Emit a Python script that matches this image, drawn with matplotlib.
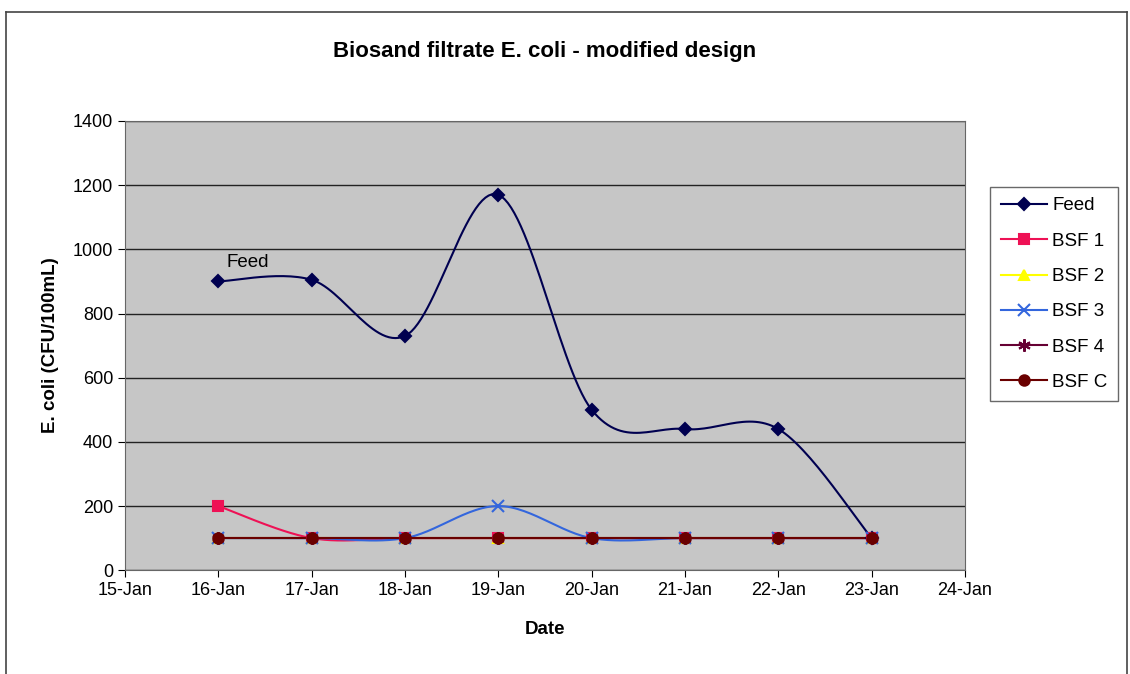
import numpy as np
import matplotlib
matplotlib.use("Agg")
import matplotlib.pyplot as plt
from matplotlib.lines import Line2D

plt.rcParams['font.family'] = ['Liberation Sans', 'DejaVu Sans']

days = [16, 17, 18, 19, 20, 21, 22, 23]
tick_days = list(range(15, 25))
tick_labels = [f"{d}-Jan" for d in tick_days]

feed = [900, 905, 730, 1170, 500, 440, 440, 100]
bsf1 = [200, 100, 100, 100, 100, 100, 100, 100]
bsf2 = [100, 100, 100, 100, 100, 100, 100, 100]
bsf3 = [100, 100, 100, 200, 100, 100, 100, 100]
bsf4 = [100, 100, 100, 100, 100, 100, 100, 100]
bsfc = [100, 100, 100, 100, 100, 100, 100, 100]


def smooth(x, y, n=30):
    # Excel-like smoothing: Bezier segments with Catmull-Rom control points
    x = np.asarray(x, float)
    y = np.asarray(y, float)
    px = np.concatenate([[x[0]], x, [x[-1]]])
    py = np.concatenate([[y[0]], y, [y[-1]]])
    t = np.linspace(0, 1, n)
    xs, ys = [], []
    for i in range(len(x) - 1):
        p0 = np.array([px[i], py[i]])
        p1 = np.array([px[i + 1], py[i + 1]])
        p2 = np.array([px[i + 2], py[i + 2]])
        p3 = np.array([px[i + 3], py[i + 3]])
        c1 = p1 + (p2 - p0) / 6
        c2 = p2 - (p3 - p1) / 6
        b = ((1 - t) ** 3)[:, None] * p1 + (3 * (1 - t) ** 2 * t)[:, None] * c1 \
            + (3 * (1 - t) * t ** 2)[:, None] * c2 + (t ** 3)[:, None] * p2
        xs.append(b[:, 0])
        ys.append(b[:, 1])
    return np.concatenate(xs), np.concatenate(ys)


series = [
    ("Feed", feed, "#000050", "D", 6.5),
    ("BSF 1", bsf1, "#ee1155", "s", 6.5),
    ("BSF 2", bsf2, "#ffff00", "^", 7.5),
    ("BSF 3", bsf3, "#3366dd", "x", 8),
    ("BSF 4", bsf4, "#660033", (6, 2, 0), 9),
    ("BSF C", bsfc, "#6a0000", "o", 7.5),
]

fig = plt.figure(figsize=(11.3, 6.74), dpi=100)
ax = fig.add_axes([0.1106, 0.154, 0.7434, 0.6665])
ax.set_facecolor("#c6c6c6")

for name, vals, col, mk, ms in series:
    sx, sy = smooth(days, vals)
    ax.plot(sx, sy, color=col, lw=1.5, zorder=3)
    ax.plot(days, vals, ls="none", marker=mk, color=col, ms=ms, mew=1.5, zorder=4)

handles = [Line2D([0], [0], color=col, lw=1.5, marker=mk, ms=ms, mew=1.5)
           for name, vals, col, mk, ms in series]
leg = ax.legend(handles, [s[0] for s in series], loc="upper left",
                bbox_to_anchor=(1.03, 0.853), borderaxespad=0, fontsize=13.5,
                frameon=True, fancybox=False, edgecolor="#444444",
                handlelength=2.5, labelspacing=0.97, borderpad=0.55,
                handletextpad=0.25)
leg.get_frame().set_linewidth(1.0)

ax.text(16.32, 960, "Feed", fontsize=13.5, ha="center", va="center")

ax.set_xlim(15, 24)
ax.set_ylim(0, 1400)
ax.set_xticks(tick_days)
ax.set_xticklabels(tick_labels, fontsize=13)
ax.set_yticks(range(0, 1401, 200))
ax.tick_params(axis="y", labelsize=13)
ax.tick_params(direction="out", length=5)
ax.grid(axis="y", color="#222222", lw=1.0)
ax.set_axisbelow(True)
for sp in ax.spines.values():
    sp.set_color("#666666")

ax.set_title("Biosand filtrate E. coli - modified design", fontsize=16,
             fontweight="bold", pad=46)
ax.set_xlabel("Date", fontsize=13.5, fontweight="bold", labelpad=16)
ax.set_ylabel("E. coli (CFU/100mL)", fontsize=13.5, fontweight="bold", labelpad=10)

# outer chart border
fig.add_artist(Line2D([6 / 1130, 6 / 1130], [0, 1 - 12 / 674], color="#444444", lw=1.2))
fig.add_artist(Line2D([6 / 1130, 1127 / 1130], [1 - 12 / 674, 1 - 12 / 674], color="#444444", lw=1.2))
fig.add_artist(Line2D([1127 / 1130, 1127 / 1130], [0, 1 - 12 / 674], color="#444444", lw=1.2))

fig.savefig("out.png", dpi=100)
